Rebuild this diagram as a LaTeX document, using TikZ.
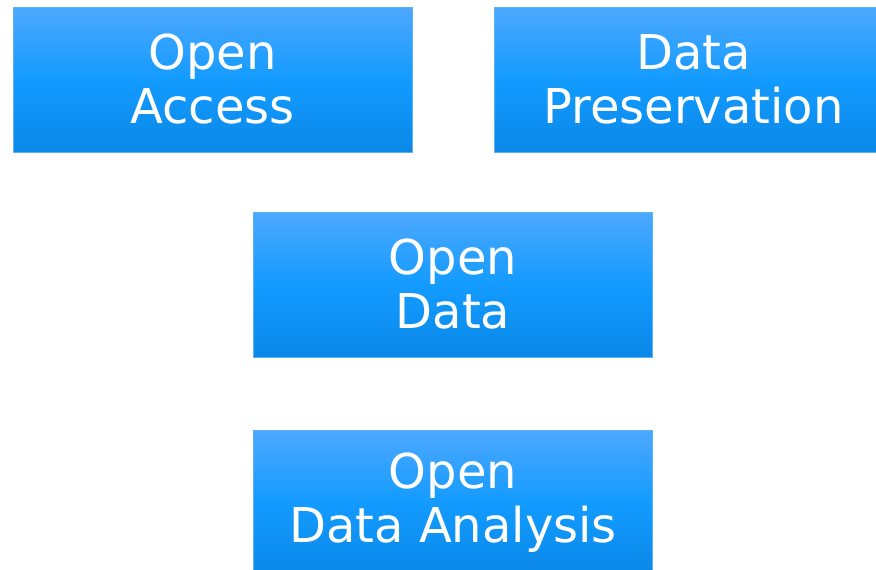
\documentclass[tikz,border=0pt]{standalone}
\usepackage{fontspec}
\setmainfont{DejaVu Sans}
\definecolor{tiletop}{HTML}{4DA8FF}
\definecolor{tilemid}{HTML}{139BFF}
\definecolor{tilebot}{HTML}{0A88E8}
\definecolor{tileline}{HTML}{5DB3F5}
\tikzset{
  tile/.style={rectangle, draw=tileline, line width=0.75pt,
    top color=tiletop, bottom color=tilebot, middle color=tilemid,
    minimum width=299.25pt, minimum height=108.75pt, inner sep=0pt,
    text=white, align=center, font=\fontsize{36}{40.5}\selectfont}
}
\begin{document}
\begin{tikzpicture}[x=0.75pt, y=-0.75pt]
	\useasboundingbox (0,0) rectangle (876,569);
	\clip (0,0) rectangle (876,569);
	\node[tile] (access) at (212.5,79.5) {Open\\Access};
	\node[tile] (preservation) at (693.5,79.5) {Data\\Preservation};
	\node[tile] (opendata) at (453,284.5) {Open\\Data};
	\node[tile] (analysis) at (453,502.5) {Open\\Data Analysis};
\end{tikzpicture}
\end{document}
